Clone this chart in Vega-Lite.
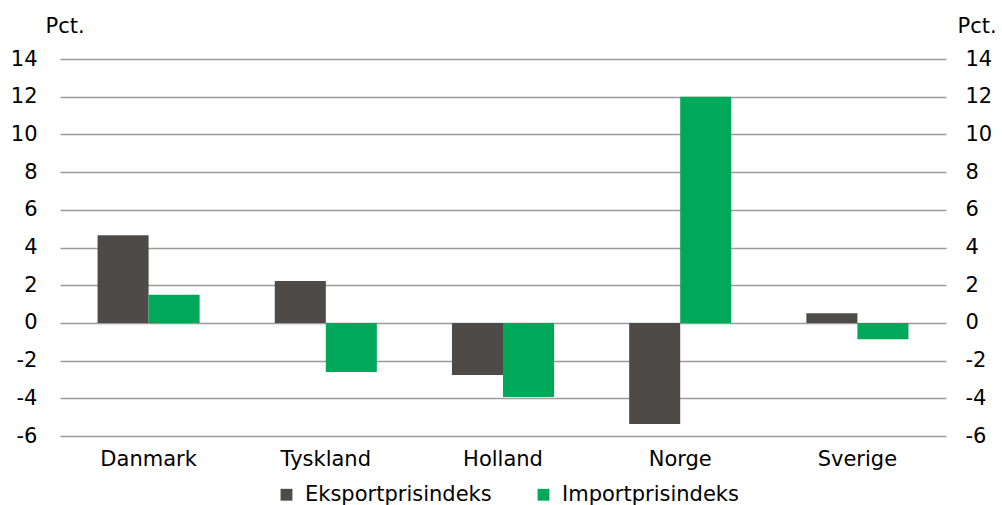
{
  "$schema": "https://vega.github.io/schema/vega-lite/v6.json",
  "width": 886,
  "height": 377,
  "autosize": {"type": "none"},
  "padding": {"left": 60, "top": 59, "right": 56, "bottom": 69},
  "background": "white",
  "config": {
    "view": {"stroke": null},
    "font": "DejaVu Sans",
    "axis": {"labelFont": "DejaVu Sans", "titleFont": "DejaVu Sans", "labelColor": "#000000", "titleColor": "#000000"}
  },
  "data": {
    "values": [
      {"land": "Danmark", "serie": "Eksportprisindeks", "value": 4.65},
      {"land": "Danmark", "serie": "Importprisindeks", "value": 1.5},
      {"land": "Tyskland", "serie": "Eksportprisindeks", "value": 2.22},
      {"land": "Tyskland", "serie": "Importprisindeks", "value": -2.6},
      {"land": "Holland", "serie": "Eksportprisindeks", "value": -2.76},
      {"land": "Holland", "serie": "Importprisindeks", "value": -3.93},
      {"land": "Norge", "serie": "Eksportprisindeks", "value": -5.36},
      {"land": "Norge", "serie": "Importprisindeks", "value": 12.0},
      {"land": "Sverige", "serie": "Eksportprisindeks", "value": 0.51},
      {"land": "Sverige", "serie": "Importprisindeks", "value": -0.87}
    ]
  },
  "encoding": {
    "x": {
      "field": "land",
      "type": "nominal",
      "sort": ["Danmark", "Tyskland", "Holland", "Norge", "Sverige"],
      "scale": {"paddingInner": 0.424, "paddingOuter": 0.212},
      "axis": {"title": null, "domain": false, "ticks": false, "labelAngle": 0, "labelFontSize": 21, "labelPadding": 12}
    }
  },
  "layer": [
    {
      "mark": {"type": "bar"},
      "encoding": {
        "xOffset": {"field": "serie", "type": "nominal", "sort": ["Eksportprisindeks", "Importprisindeks"]},
        "y": {
          "field": "value",
          "type": "quantitative",
          "scale": {"domain": [-6, 14], "nice": false, "zero": false},
          "axis": {
            "orient": "left",
            "values": [-6, -4, -2, 0, 2, 4, 6, 8, 10, 12, 14],
            "labelExpr": "datum.value < 0 ? '-' + abs(datum.value) : '' + datum.value",
            "domain": false,
            "ticks": false,
            "grid": true,
            "gridColor": "#9a9a9a",
            "gridWidth": 1.5,
            "gridOpacity": 1,
            "labelFontSize": 21,
            "labelPadding": 23,
            "title": "Pct.",
            "titleAngle": 0,
            "titleFontSize": 21,
            "titleFontWeight": "normal",
            "titleAlign": "left",
            "titleBaseline": "alphabetic",
            "titleX": -15,
            "titleY": -27
          }
        },
        "color": {
          "field": "serie",
          "type": "nominal",
          "scale": {"domain": ["Eksportprisindeks", "Importprisindeks"], "range": ["#4e4a47", "#00a85a"]},
          "legend": {
            "title": null,
            "orient": "none",
            "direction": "horizontal",
            "legendX": 216,
            "legendY": 425,
            "symbolType": "square",
            "symbolSize": 140,
            "symbolStrokeWidth": 0,
            "symbolOpacity": 1,
            "labelFontSize": 21,
            "labelFont": "DejaVu Sans",
            "labelColor": "#000000",
            "labelLimit": 400,
            "labelOffset": 8,
            "columnPadding": 41
          }
        }
      }
    },
    {
      "mark": {"type": "rule", "strokeOpacity": 0},
      "data": {"values": [{"z": 0}]},
      "encoding": {
        "x": null,
        "y": {
          "field": "z",
          "type": "quantitative",
          "scale": {"domain": [-6, 14], "nice": false, "zero": false},
          "axis": {
            "orient": "right",
            "values": [-6, -4, -2, 0, 2, 4, 6, 8, 10, 12, 14],
            "labelExpr": "datum.value < 0 ? '-' + abs(datum.value) : '' + datum.value",
            "domain": false,
            "ticks": false,
            "grid": false,
            "labelFontSize": 21,
            "labelPadding": 19,
            "title": "Pct.",
            "titleAngle": 0,
            "titleFontSize": 21,
            "titleFontWeight": "normal",
            "titleAlign": "left",
            "titleBaseline": "alphabetic",
            "titleX": 11,
            "titleY": -27
          }
        }
      }
    }
  ],
  "resolve": {"scale": {"y": "independent"}}
}
